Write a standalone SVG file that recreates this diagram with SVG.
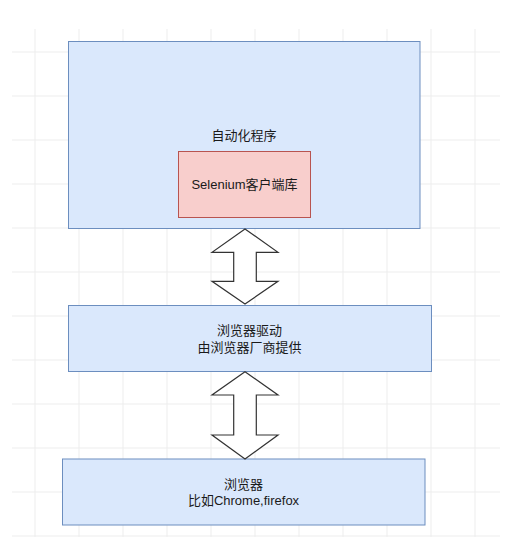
<svg xmlns="http://www.w3.org/2000/svg" width="525" height="548" viewBox="0 0 525 548">
<style>
.grid line{stroke:#ededed;stroke-width:1}
.blue{fill:#dae8fc;stroke:#6c8ebf;stroke-width:1}
.red{fill:#f8cecc;stroke:#b85450;stroke-width:1}
.arrow{fill:#ffffff;stroke:#333333;stroke-width:1.2;stroke-linejoin:miter}
text{font-family:"Liberation Sans","Noto Sans CJK SC",sans-serif;font-size:13px;fill:#1a1a1a;text-anchor:middle;dominant-baseline:central}
</style>
<rect width="525" height="548" fill="#ffffff"/>
<g class="grid">
<line x1="35" y1="29" x2="35" y2="537"/>
<line x1="79" y1="29" x2="79" y2="537"/>
<line x1="123" y1="29" x2="123" y2="537"/>
<line x1="167" y1="29" x2="167" y2="537"/>
<line x1="211" y1="29" x2="211" y2="537"/>
<line x1="255" y1="29" x2="255" y2="537"/>
<line x1="299" y1="29" x2="299" y2="537"/>
<line x1="343" y1="29" x2="343" y2="537"/>
<line x1="387" y1="29" x2="387" y2="537"/>
<line x1="431" y1="29" x2="431" y2="537"/>
<line x1="475" y1="29" x2="475" y2="537"/>
<line x1="12" y1="52" x2="500" y2="52"/>
<line x1="12" y1="96" x2="500" y2="96"/>
<line x1="12" y1="140" x2="500" y2="140"/>
<line x1="12" y1="184" x2="500" y2="184"/>
<line x1="12" y1="228" x2="500" y2="228"/>
<line x1="12" y1="272" x2="500" y2="272"/>
<line x1="12" y1="316" x2="500" y2="316"/>
<line x1="12" y1="360" x2="500" y2="360"/>
<line x1="12" y1="404" x2="500" y2="404"/>
<line x1="12" y1="448" x2="500" y2="448"/>
<line x1="12" y1="492" x2="500" y2="492"/>
<line x1="12" y1="536" x2="500" y2="536"/>
</g>
<g id="app">
<rect class="blue" x="68.5" y="41.5" width="351.5" height="187"/>
<text x="244" y="135">自动化程序</text>
</g>
<g id="selenium">
<rect class="red" x="178.5" y="151.5" width="132" height="66"/>
<text x="244.5" y="184.5">Selenium客户端库</text>
</g>
<g id="driver">
<rect class="blue" x="68.5" y="305.5" width="363" height="66"/>
<text x="249.5" y="330.5">浏览器驱动</text>
<text x="249.5" y="347">由浏览器厂商提供</text>
</g>
<g id="browser">
<rect class="blue" x="62.5" y="459" width="362.5" height="66"/>
<text x="243.5" y="484">浏览器</text>
<text x="243.5" y="500.5">比如Chrome,firefox</text>
</g>
<g id="connectors">
<polygon class="arrow" points="245,229 278,252.3 256.3,252.3 256.3,281.3 278,281.3 245,304 212,281.3 233.7,281.3 233.7,252.3 212,252.3"/>
<polygon class="arrow" points="245,371.7 278,395 256.3,395 256.3,435 278,435 245,459 212,435 233.7,435 233.7,395 212,395"/>
</g>
</svg>
